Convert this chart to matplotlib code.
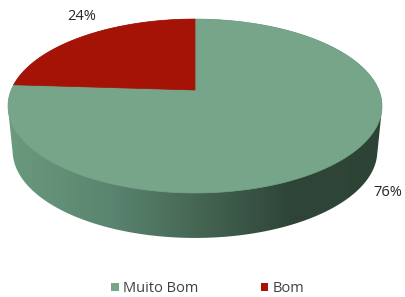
import numpy as np
import matplotlib
matplotlib.use('Agg')
import matplotlib.pyplot as plt
from matplotlib.patches import Polygon, Patch
from matplotlib.colors import to_rgb


labels = ['Muito Bom', 'Bom']
values = [76, 24]
colors = ['#76a589', '#a51206']
pct_labels = ['76%', '24%']


def project(theta, cx=195., cy=90., sx=183.8, sy=84., k=0.184):
	# perspective view of a unit circle (pie top)
	u = np.cos(theta)
	v = np.sin(theta)
	w = 1. + k*v
	return cx + sx*u/w, cy - sy*v/w


def hull(pts):
	pts = sorted(map(tuple, pts))
	def half(p):
		out = []
		for q in p:
			while len(out) >= 2 and np.cross(np.subtract(out[-1], out[-2]), np.subtract(q, out[-2])) <= 0:
				out.pop()
			out.append(q)
		return out
	lo = half(pts)
	hi = half(pts[::-1])
	return np.array(lo[:-1] + hi[:-1])


fig = plt.figure(figsize=(4.06, 2.97), dpi=100)
ax = fig.add_axes([0, 0, 1, 1])
ax.set_xlim(0, 406)
ax.set_ylim(297, 0)
ax.axis('off')

depth = 45.
shrink = 0.975
cx, cy = 195., 90.

# side of the pie (convex hull of top + bottom rims)
th = np.linspace(0, 2*np.pi, 400)
tx, ty = project(th)
bx = cx + (tx - cx)*shrink
by = ty + depth
side = hull(np.column_stack([np.concatenate([tx, bx]), np.concatenate([ty, by])]))
side_patch = Polygon(side, closed=True, facecolor='none', edgecolor='none')
ax.add_patch(side_patch)

grad_x = [0, 20, 110, 200, 290, 406]
grad_c = ['#6e9e82', '#69977c', '#5a8570', '#456553', '#2e4538', '#2d4335']
xs = np.linspace(0, 406, 406)
rgb = np.array([to_rgb(c) for c in grad_c])
img = np.stack([np.interp(xs, grad_x, rgb[:, i]) for i in range(3)], axis=-1)[None, :, :]
im = ax.imshow(np.repeat(img, 2, axis=0), extent=[0, 406, 297, 0], aspect='auto', zorder=1)
im.set_clip_path(side_patch)

# top face wedges, clockwise from the top
start = np.pi/2
total = float(sum(values))
for val, col in zip(values, colors):
	sweep = 2*np.pi*val/total
	t = np.linspace(start, start - sweep, 300)
	wx, wy = project(t)
	poly = np.column_stack([np.concatenate([[cx], wx]), np.concatenate([[cy], wy])])
	ax.add_patch(Polygon(poly, closed=True, facecolor=col, edgecolor=col, linewidth=0.5, zorder=2))
	start -= sweep

ax.text(388, 193, pct_labels[0], fontsize=10.5, color='#262626', ha='center', va='center', family='Open Sans')
ax.text(82, 17, pct_labels[1], fontsize=10.5, color='#262626', ha='center', va='center', family='Open Sans')

handles = [Patch(facecolor=c, edgecolor='none', label=l) for l, c in zip(labels, colors)]
ax.legend(handles=handles, loc='center', bbox_to_anchor=(208/406., 1 - 289/297.), ncol=2, frameon=False,
		  handlelength=0.5, handleheight=0.5, handletextpad=0.3, columnspacing=4.3,
		  prop={'family': 'Open Sans', 'size': 10.5}, labelcolor='#404040')

fig.savefig('out.png', dpi=100)
